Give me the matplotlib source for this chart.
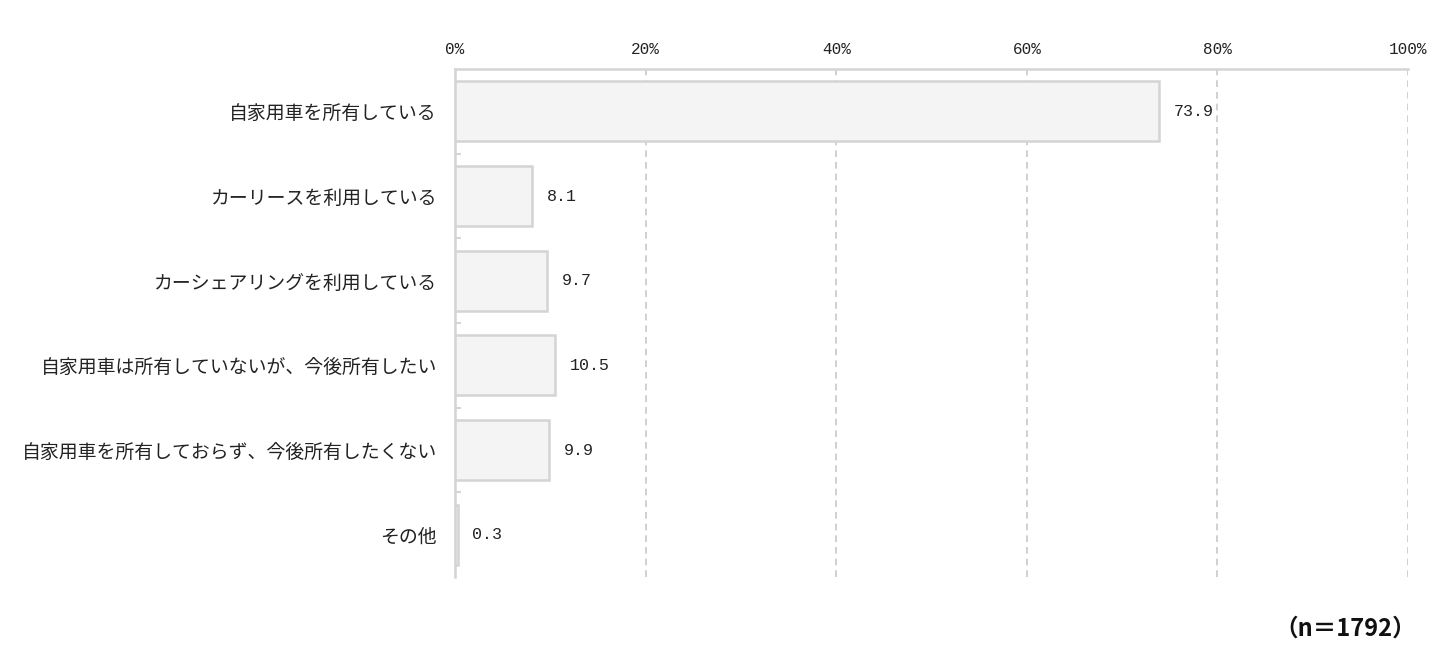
import matplotlib.pyplot as plt
import numpy as np

plt.rcParams['font.family'] = ['Noto Sans CJK JP', 'DejaVu Sans']

categories = [
    "自家用車を所有している",
    "カーリースを利用している",
    "カーシェアリングを利用している",
    "自家用車は所有していないが、今後所有したい",
    "自家用車を所有しておらず、今後所有したくない",
    "その他",
]
values = [73.9, 8.1, 9.7, 10.5, 9.9, 0.3]
xticks = [0, 20, 40, 60, 80, 100]
xtick_labels = ["0%", "20%", "40%", "60%", "80%", "100%"]
note = "（n＝1792）"

mono = ["Liberation Mono", "DejaVu Sans Mono"]

fig = plt.figure(figsize=(14.52, 6.70), dpi=100)
ax = fig.add_axes([0.3134, 0.1388, 0.6563, 0.7582])

y = np.arange(len(categories))
ax.barh(y, values, height=0.71, color="#f4f4f4", edgecolor="#d4d4d4", linewidth=1.8, zorder=3)

for yi, v in zip(y, values):
    ax.text(v + 1.5, yi, f"{v:.1f}", va="center", ha="left", fontsize=12,
            family=mono, color="#222222")

ax.set_xlim(0, 100)
ax.set_ylim(len(categories) - 0.5, -0.5)
ax.set_xticks(xticks)
ax.set_xticklabels(xtick_labels, fontsize=11.5, family=mono, color="#222222")
ax.xaxis.tick_top()
ax.tick_params(axis="x", length=0, pad=9)

ax.set_yticks(y)
ax.set_yticklabels(categories, fontsize=13.6, color="#222222")
ax.tick_params(axis="y", which="major", length=0, pad=13)
ax.set_yticks(np.arange(0.5, len(categories) - 0.5), minor=True)
ax.tick_params(axis="y", which="minor", length=4, direction="in", color="#d4d4d4", width=1.5)

for x in xticks[1:]:
    ax.axvline(x, color="#c8c8c8", linestyle=(0, (4, 3)), linewidth=1.2, zorder=1)

for side in ["right", "bottom"]:
    ax.spines[side].set_visible(False)
for side in ["top", "left"]:
    ax.spines[side].set_color("#d4d4d4")
    ax.spines[side].set_linewidth(1.8)

fig.text(0.975, 0.062, note, ha="right", va="center", fontsize=17, fontweight="bold", color="#111111")

fig.savefig("out.png", dpi=100)
